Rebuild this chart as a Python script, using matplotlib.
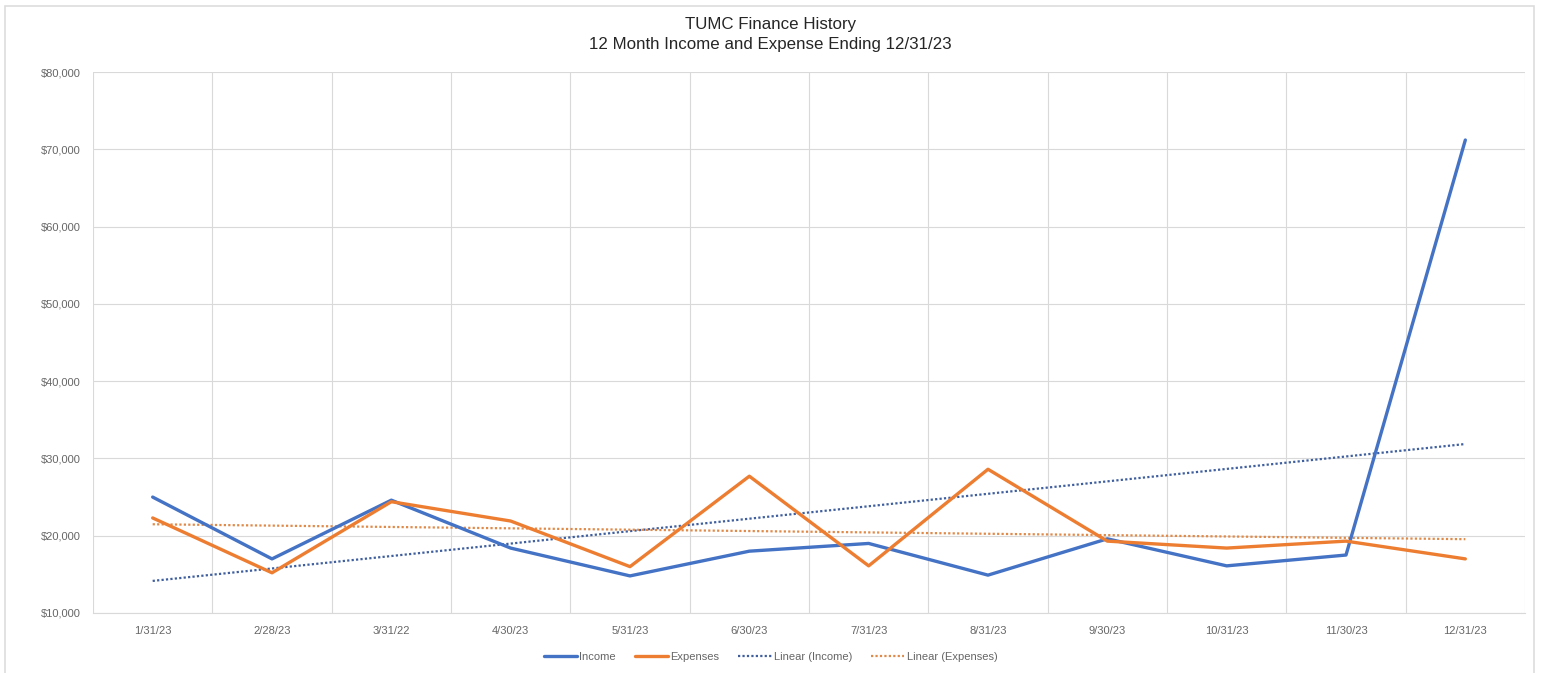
import matplotlib
matplotlib.use("Agg")
import matplotlib.pyplot as plt
import numpy as np
from matplotlib.ticker import FuncFormatter, FixedLocator
from matplotlib.patches import Rectangle

plt.rcParams['font.family'] = ['Liberation Sans', 'DejaVu Sans']

months = ["1/31/23", "2/28/23", "3/31/22", "4/30/23", "5/31/23", "6/30/23",
          "7/31/23", "8/31/23", "9/30/23", "10/31/23", "11/30/23", "12/31/23"]
income = [25000, 17000, 24600, 18400, 14800, 18000, 19000, 14900, 19600, 16100, 17500, 71200]
expenses = [22300, 15200, 24400, 21900, 16000, 27700, 16100, 28600, 19300, 18400, 19300, 17000]
y_ticks = [10000, 20000, 30000, 40000, 50000, 60000, 70000, 80000]

blue = "#4472C4"
orange = "#ED7D31"

fig = plt.figure(figsize=(15.41, 6.73), dpi=100)
ax = fig.add_axes([93/1541, 1-613/673, (1525-93)/1541, (613-72)/673])

x = np.arange(1, len(months) + 1)
ax.plot(x, income, color=blue, lw=2.4, label="Income", solid_capstyle='round', zorder=4)
ax.plot(x, expenses, color=orange, lw=2.4, label="Expenses", solid_capstyle='round', zorder=4)

pi = np.polyfit(x, income, 1)
pe = np.polyfit(x, expenses, 1)
ax.plot(x, np.polyval(pi, x), color="#3E5E9E", lw=1.6, ls=(0, (1, 1)), label="Linear (Income)", zorder=3)
ax.plot(x, np.polyval(pe, x), color="#E08A4A", lw=1.6, ls=(0, (1, 1)), label="Linear (Expenses)", zorder=3)

ax.set_xlim(0.5, len(months) + 0.5)
ax.set_ylim(10000, 80000)
ax.set_xticks(x)
ax.set_xticklabels(months)
ax.xaxis.set_minor_locator(FixedLocator(np.arange(0.5, len(months) + 1, 1)))
ax.set_yticks(y_ticks)
ax.yaxis.set_major_formatter(FuncFormatter(lambda v, p: "${:,.0f}".format(v)))

ax.grid(True, which='major', axis='y', color="#D9D9D9", lw=0.8)
ax.grid(True, which='minor', axis='x', color="#D9D9D9", lw=0.8)
ax.set_axisbelow(True)
for s in ['top', 'right', 'left']:
    ax.spines[s].set_visible(False)
ax.spines['bottom'].set_color("#D9D9D9")
ax.tick_params(axis='both', which='both', length=0, labelsize=8, labelcolor="#666666")
ax.tick_params(axis='x', pad=9)
ax.tick_params(axis='y', pad=9)

fig.text(0.5, 1-25/673, "TUMC Finance History", ha='center', va='center', fontsize=12.2, color="#262626")
fig.text(0.5, 1-45/673, "12 Month Income and Expense Ending 12/31/23", ha='center', va='center', fontsize=12.2, color="#262626")

leg = fig.legend(loc='center', bbox_to_anchor=(0.5, 1-657/673), ncol=4, frameon=False,
                 fontsize=8, labelcolor="#666666", handlelength=3.0, columnspacing=1.7, handletextpad=0.2)

fig.patches.append(Rectangle((5/1541, -0.05), 1-12/1541, 1.05-6/673, transform=fig.transFigure,
                             fill=False, edgecolor="#DDDDDD", lw=1.2))

fig.savefig("out.png", dpi=100, facecolor="white")
